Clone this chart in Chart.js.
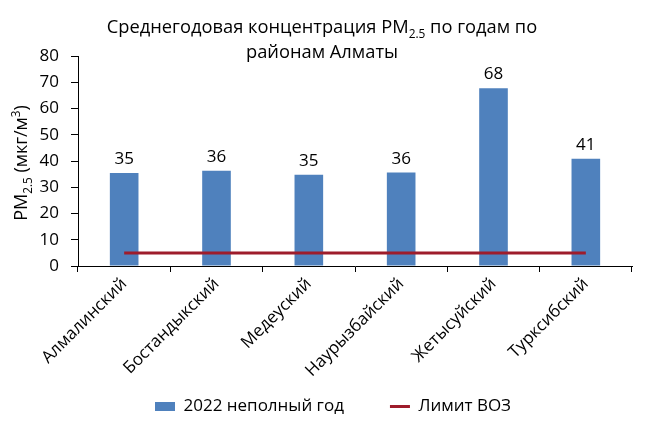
<!DOCTYPE html>
<html>
<head>
<meta charset="utf-8">
<script src="https://cdn.jsdelivr.net/npm/chart.js@4.4.0/dist/chart.umd.min.js"></script>
<style>
  html, body { margin: 0; padding: 0; background: #fff; }
  #wrap { width: 646px; height: 425px; }
</style>
</head>
<body>
<div id="wrap"><canvas id="pmChart"></canvas></div>
<script>
// данные
const districts = ['Алмалинский', 'Бостандыкский', 'Медеуский', 'Наурызбайский', 'Жетысуйский', 'Турксибский'];
const pm2022 = [35.4, 36.3, 34.8, 35.6, 67.7, 40.9];
const whoLimit = [5, 5, 5, 5, 5, 5];
const yTicks = [0, 10, 20, 30, 40, 50, 60, 70, 80];

const FONT = '"Open Sans", sans-serif';

// рисует строку с нижними/верхними индексами
function drawRich(ctx, parts, x, y, size) {
    let total = 0;
    parts.forEach(p => {
        ctx.font = (p.sub || p.sup ? size * 0.65 : size) + 'px ' + FONT;
        p.w = ctx.measureText(p.t).width;
        total += p.w;
    });
    let cx = x - total / 2;
    parts.forEach(p => {
        ctx.font = (p.sub || p.sup ? size * 0.65 : size) + 'px ' + FONT;
        let dy = p.sub ? size * 0.25 : (p.sup ? -size * 0.4 : 0);
        ctx.fillText(p.t, cx, y + dy);
        cx += p.w;
    });
}

const textPlugin = {
    id: 'textPlugin',
    afterLayout(chart) {
        // подписи оси X не обрезаем по границе оси
        chart.scales.x._computeLabelArea = () => undefined;
        // легенда чуть правее, как в оригинале
        chart.legend.left += 12;
        chart.legend.right += 12;
    },
    afterDraw(chart) {
        const ctx = chart.ctx;
        ctx.save();
        ctx.fillStyle = '#000';
        ctx.textBaseline = 'alphabetic';
        ctx.textAlign = 'left';
        // заголовок
        drawRich(ctx, [{t: 'Среднегодовая концентрация PM'}, {t: '2.5', sub: true}, {t: ' по годам по'}], 322, 33, 18.3);
        drawRich(ctx, [{t: 'районам Алматы'}], 322, 58, 18.3);
        // подпись оси Y
        ctx.translate(27, 163);
        ctx.rotate(-Math.PI / 2);
        drawRich(ctx, [{t: 'PM'}, {t: '2.5', sub: true}, {t: ' (мкг/м'}, {t: '3', sup: true}, {t: ')'}], 0, 0, 18);
        ctx.restore();
    },
    afterDatasetsDraw(chart) {
        // подписи значений над столбцами
        const ctx = chart.ctx;
        const meta = chart.getDatasetMeta(1);
        ctx.save();
        ctx.font = '17px ' + FONT;
        ctx.fillStyle = '#000';
        ctx.textAlign = 'center';
        ctx.textBaseline = 'alphabetic';
        meta.data.forEach((bar, i) => {
            ctx.fillText(Math.round(pm2022[i]), bar.x, bar.y - 9);
        });
        ctx.restore();
    }
};

Chart.defaults.font.family = FONT;
Chart.defaults.color = '#000';

new Chart(document.getElementById('pmChart'), {
    data: {
        labels: districts,
        datasets: [
            {
                type: 'line',
                label: 'Лимит ВОЗ',
                data: whoLimit,
                borderColor: '#9e1c2b',
                backgroundColor: '#9e1c2b',
                borderWidth: 3,
                pointRadius: 0,
                pointStyle: 'line',
                order: 0
            },
            {
                type: 'bar',
                label: '2022 неполный год',
                data: pm2022,
                backgroundColor: '#4f81bd',
                borderWidth: 0,
                pointStyle: 'rect',
                barPercentage: 0.31,
                categoryPercentage: 1,
                order: 1
            }
        ]
    },
    options: {
        responsive: true,
        maintainAspectRatio: false,
        animation: false,
        layout: {
            padding: { top: 56, left: 10, right: 14, bottom: 0 }
        },
        plugins: {
            legend: {
                position: 'bottom',
                reverse: true,
                labels: {
                    usePointStyle: true,
                    pointStyleWidth: 20,
                    boxHeight: 9,
                    padding: 46,
                    font: { size: 17 },
                    color: '#000'
                }
            },
            tooltip: { enabled: false }
        },
        scales: {
            x: {
                afterFit: s => { s.height = 86; },
                grid: {
                    offset: true,
                    drawOnChartArea: false,
                    tickLength: 6,
                    color: '#000'
                },
                border: { color: '#000', width: 1 },
                ticks: {
                    minRotation: 45,
                    maxRotation: 45,
                    font: { size: 17 },
                    padding: 2
                }
            },
            y: {
                min: 0,
                max: 80,
                afterBuildTicks: s => { s.ticks = yTicks.map(v => ({ value: v })); },
                afterFit: s => { s.width = 68; },
                grid: {
                    drawOnChartArea: false,
                    tickLength: 7,
                    color: '#000'
                },
                border: { color: '#000', width: 1 },
                ticks: {
                    font: { size: 17 },
                    padding: 12
                }
            }
        }
    },
    plugins: [textPlugin]
});
</script>
</body>
</html>
